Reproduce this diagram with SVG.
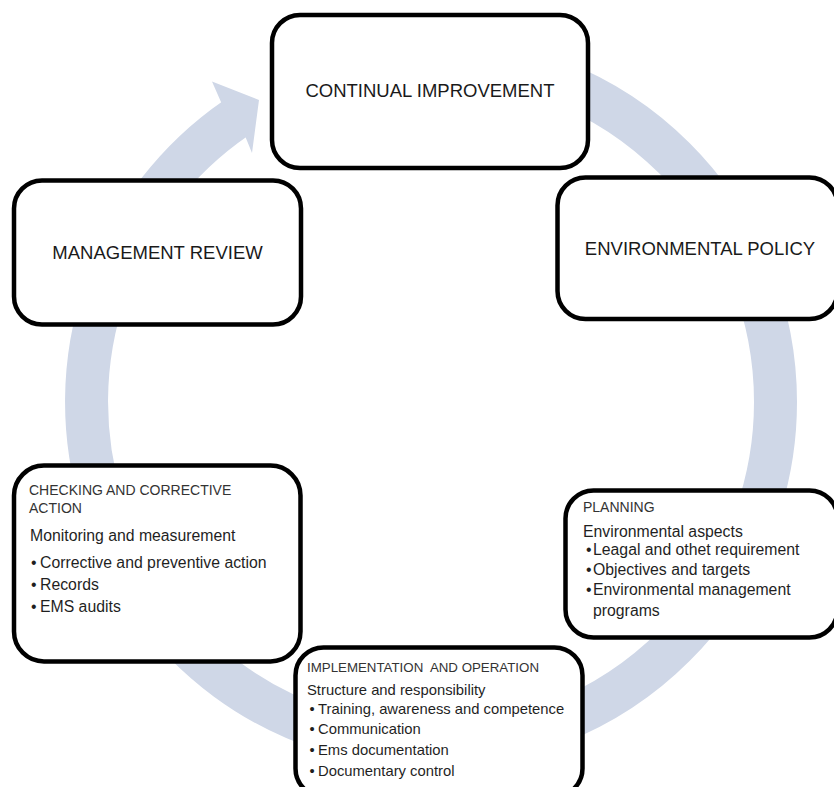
<svg xmlns="http://www.w3.org/2000/svg" width="834" height="787" viewBox="0 0 834 787">
<style>
.box{fill:#ffffff;stroke:#000000;stroke-width:4.5}
.ring{fill:none;stroke:#CFD7E7;stroke-width:43}
.head{fill:#CFD7E7}
.big{font-family:"Liberation Sans",Arial,sans-serif;font-size:18.5px;fill:#1a1a1a;text-anchor:middle}
.hd{font-family:"Liberation Sans",Arial,sans-serif;font-size:14px;fill:#333333}
.bd{font-family:"Liberation Sans",Arial,sans-serif;font-size:15.8px;fill:#1f1f1f}
.hd2{font-family:"Liberation Sans",Arial,sans-serif;font-size:13.3px;fill:#333333}
.bd2{font-family:"Liberation Sans",Arial,sans-serif;font-size:14.8px;fill:#1f1f1f}
</style>
<rect x="0" y="0" width="834" height="787" fill="#ffffff"/>
<g id="connectors">
  <path class="ring" d="M 431 57.5 A 344.5 344.5 0 0 1 431 746.5 A 344.5 344.5 0 0 1 235.9 118.1"/>
  <polygon class="head" points="221.1,102.2 212,81.5 259,100 252,153 245.7,137.4"/>
</g>
<g id="continual-improvement">
  <rect class="box" x="272" y="15" width="316" height="153" rx="28" ry="28"/>
  <text class="big" x="430" y="97">CONTINUAL IMPROVEMENT</text>
</g>
<g id="environmental-policy">
  <rect class="box" x="557.5" y="177.5" width="280" height="141.5" rx="28" ry="28"/>
  <text class="big" x="700" y="255">ENVIRONMENTAL POLICY</text>
</g>
<g id="management-review">
  <rect class="box" x="14" y="180.5" width="287" height="144" rx="28" ry="28"/>
  <text class="big" x="157.5" y="259">MANAGEMENT REVIEW</text>
</g>
<g id="checking">
  <rect class="box" x="14" y="465.5" width="286.5" height="196" rx="30" ry="30"/>
  <text class="hd" x="29" y="495">CHECKING AND CORRECTIVE</text>
  <text class="hd" x="29" y="513">ACTION</text>
  <text class="bd" x="30" y="541">Monitoring and measurement</text>
  <text class="bd" x="31" y="568">•</text><text class="bd" x="40" y="568">Corrective and preventive action</text>
  <text class="bd" x="31" y="590">•</text><text class="bd" x="40" y="590">Records</text>
  <text class="bd" x="31" y="612">•</text><text class="bd" x="40" y="612">EMS audits</text>
</g>
<g id="planning">
  <rect class="box" x="565.5" y="490.5" width="272" height="147" rx="28" ry="28"/>
  <text class="hd" x="583" y="512">PLANNING</text>
  <text class="bd" x="583" y="537">Environmental aspects</text>
  <text class="bd" x="586" y="555">•</text><text class="bd" x="593" y="555">Leagal and othet requirement</text>
  <text class="bd" x="586" y="575">•</text><text class="bd" x="593" y="575">Objectives and targets</text>
  <text class="bd" x="586" y="595">•</text><text class="bd" x="593" y="595">Environmental management</text>
  <text class="bd" x="593" y="616">programs</text>
</g>
<g id="implementation">
  <rect class="box" x="295.5" y="647.5" width="287" height="149" rx="28" ry="28"/>
  <text class="hd2" x="307" y="672">IMPLEMENTATION&#160; AND OPERATION</text>
  <text class="bd2" x="307" y="695">Structure and responsibility</text>
  <text class="bd2" x="309.5" y="714">•</text><text class="bd2" x="318" y="714">Training, awareness and competence</text>
  <text class="bd2" x="309.5" y="734">•</text><text class="bd2" x="318" y="734">Communication</text>
  <text class="bd2" x="309.5" y="755">•</text><text class="bd2" x="318" y="755">Ems documentation</text>
  <text class="bd2" x="309.5" y="776">•</text><text class="bd2" x="318" y="776">Documentary control</text>
</g>
</svg>
